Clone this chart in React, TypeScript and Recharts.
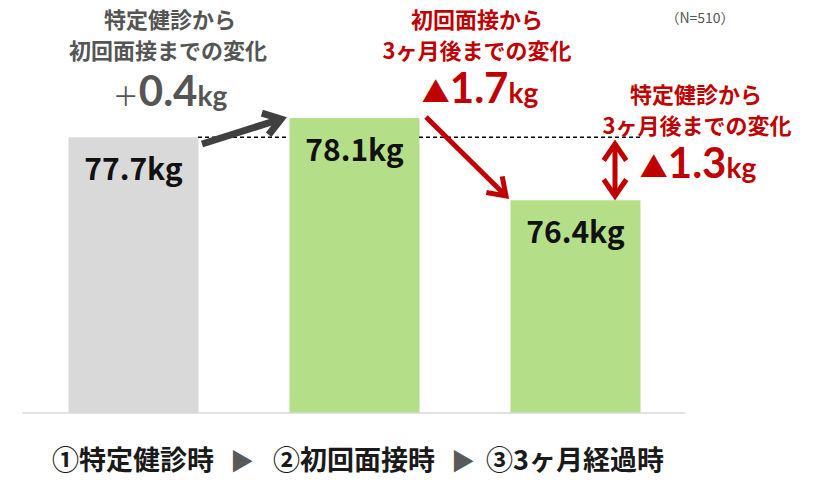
import React from 'react';
import { BarChart, Bar, XAxis, YAxis, Cell, LabelList, ReferenceLine } from 'recharts';

const categories = ['①特定健診時', '②初回面接時', '③3ヶ月経過時'];
const weights = [77.7, 78.1, 76.4];
const barColors = ['#d9d9d9', '#b5de88', '#b5de88'];
const yDomain = [72, 80];

const data = categories.map((name, i) => ({ name, weight: weights[i] }));

const FONT = '"Noto Sans CJK JP", "Noto Sans", sans-serif';
const NUM = 'Lato, "Noto Sans", sans-serif';
const RED = '#c00000';
const GRAY = '#555555';

const CatTick = (props: any) => {
    const { x, y, payload } = props;
    return (
        <text x={x} y={y + 57} textAnchor="middle" fontSize={27} fontWeight={700} fill="#1a1a1a" fontFamily={FONT}>
            {payload.value}
        </text>
    );
};

const ValueLabel = (props: any) => {
    const { x, y, width, value } = props;
    return (
        <text x={x + width / 2} y={y + 43} textAnchor="middle" fontSize={30} fontWeight={700} fill="#111" fontFamily={FONT}>
            {value}kg
        </text>
    );
};

// dashed level line of the first value, skipping the middle bar
const DashShape = (props: any) => {
    const { x1, x2, y1 } = props;
    const band = (x2 - x1) / categories.length;
    const half = 65;
    const segs = [
        [x1 + band / 2 + half, x1 + band * 1.5 - half],
        [x1 + band * 1.5 + half, x1 + band * 2.5 + half],
    ];
    return (
        <g>
            {segs.map(([a, b], i) => (
                <line key={i} x1={a} x2={b} y1={y1} y2={y1} stroke="#000" strokeWidth={1.4} strokeDasharray="4 3" />
            ))}
        </g>
    );
};

function head(fx: number, fy: number, tx: number, ty: number, len: number, ang: number) {
    const a = Math.atan2(ty - fy, tx - fx);
    const p1 = [tx - len * Math.cos(a - ang), ty - len * Math.sin(a - ang)];
    const p2 = [tx - len * Math.cos(a + ang), ty - len * Math.sin(a + ang)];
    return `M${p1[0]},${p1[1]} L${tx},${ty} L${p2[0]},${p2[1]}`;
}

const Arrow = ({ x1, y1, x2, y2, color, w, both }: any) => (
    <g stroke={color} strokeWidth={w} fill="none" strokeLinecap="butt" strokeLinejoin="miter">
        <line x1={x1} y1={y1} x2={x2} y2={y2} />
        <path d={head(x1, y1, x2, y2, 20, 0.6)} />
        {both && <path d={head(x2, y2, x1, y1, 20, 0.6)} />}
    </g>
);

const Overlay = () => (
    <svg width={815} height={480} style={{ position: 'absolute', left: 0, top: 0, pointerEvents: 'none' }} fontFamily={FONT}>
        <text x={700} y={23} textAnchor="middle" fontSize={14} fill={GRAY}>（N=510）</text>

        <g fill={GRAY} fontWeight={700} textAnchor="middle">
            <text x={170} y={28} fontSize={22}>特定健診から</text>
            <text x={168} y={59} fontSize={22}>初回面接までの変化</text>
            <text x={170} y={106}>
                <tspan fontSize={26} fontWeight={400}>＋</tspan>
                <tspan fontSize={42} fontFamily={NUM}>0.4</tspan>
                <tspan fontSize={28} fontFamily={NUM}>kg</tspan>
            </text>
        </g>

        <g fill={RED} fontWeight={700} textAnchor="middle">
            <text x={477} y={28} fontSize={22}>初回面接から</text>
            <text x={477} y={59} fontSize={22}>3ヶ月後までの変化</text>
            <text x={480} y={103}>
                <tspan fontSize={28}>▲</tspan>
                <tspan fontSize={42} fontFamily={NUM}>1.7</tspan>
                <tspan fontSize={28} fontFamily={NUM}>kg</tspan>
            </text>
        </g>

        <g fill={RED} fontWeight={700} textAnchor="middle">
            <text x={696} y={103} fontSize={22}>特定健診から</text>
            <text x={697} y={134} fontSize={22}>3ヶ月後までの変化</text>
            <text x={698} y={178}>
                <tspan fontSize={28}>▲</tspan>
                <tspan fontSize={42} fontFamily={NUM}>1.3</tspan>
                <tspan fontSize={28} fontFamily={NUM}>kg</tspan>
            </text>
        </g>

        <Arrow x1={202} y1={144} x2={281} y2={119} color="#404040" w={7} />
        <Arrow x1={426} y1={117} x2={506} y2={196} color={RED} w={5} />
        <Arrow x1={615} y1={144} x2={615} y2={196} color={RED} w={5} both />

        <g fill="#595959" fontSize={24} textAnchor="middle">
            <text x={242} y={470}>▶</text>
            <text x={463} y={470}>▶</text>
        </g>
    </svg>
);

export default function App() {
    return (
        <div style={{ position: 'absolute', left: 0, top: 0, width: 815, height: 480, background: '#fff' }}>
            <BarChart
                width={815}
                height={480}
                data={data}
                margin={{ top: 26, right: 129.5, bottom: 7, left: 22.5 }}
                barSize={130}
            >
                <XAxis
                    dataKey="name"
                    height={60}
                    tickLine={false}
                    tickSize={0}
                    tickMargin={0}
                    axisLine={{ stroke: '#d9d9d9', strokeWidth: 1.5 }}
                    tick={<CatTick />}
                    interval={0}
                />
                <YAxis hide domain={yDomain} allowDataOverflow />
                <ReferenceLine y={weights[0]} shape={<DashShape />} />
                <Bar dataKey="weight" isAnimationActive={false}>
                    {data.map((_, i) => (
                        <Cell key={i} fill={barColors[i]} />
                    ))}
                    <LabelList dataKey="weight" content={<ValueLabel />} />
                </Bar>
            </BarChart>
            <Overlay />
        </div>
    );
}
